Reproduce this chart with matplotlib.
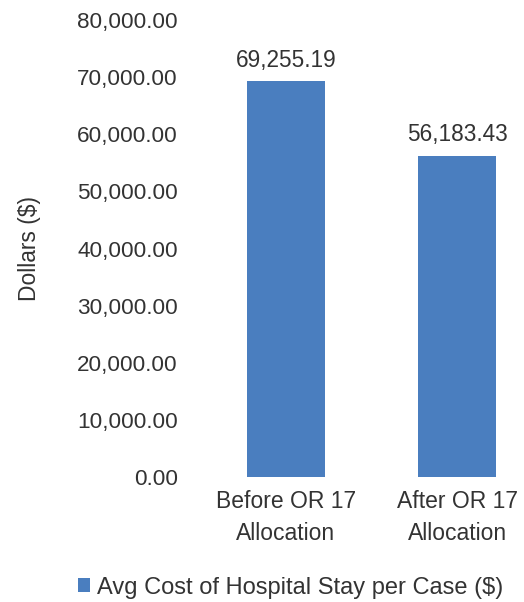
import matplotlib
matplotlib.use('Agg')
import matplotlib.pyplot as plt
from matplotlib.ticker import FuncFormatter

plt.rcParams['font.family'] = ['Liberation Sans', 'DejaVu Sans']

categories = ['Before OR 17\nAllocation', 'After OR 17\nAllocation']
values = [69255.19, 56183.43]
series_name = 'Avg Cost of Hospital Stay per Case ($)'
y_ticks = [0, 10000, 20000, 30000, 40000, 50000, 60000, 70000, 80000]

bar_color = '#4A7EBF'
text_color = '#333333'

fig = plt.figure(figsize=(5.24, 6.02), dpi=100)
ax = fig.add_axes([0.382, 0.2076, 0.618, 0.7592])

x = list(range(len(categories)))
bars = ax.bar(x, values, width=0.456, color=bar_color, label=series_name)

for b, v in zip(bars, values):
    ax.annotate(f'{v:,.2f}', (b.get_x() + b.get_width() / 2, v),
                xytext=(0, 7), textcoords='offset points',
                ha='center', va='bottom', fontsize=16.3, color=text_color)

ax.set_xlim(-0.5, 1.39)
ax.set_ylim(0, 80000)
ax.set_yticks(y_ticks)
ax.yaxis.set_major_formatter(FuncFormatter(lambda v, p: f'{v:,.2f}'))
ax.set_xticks(x)
ax.set_xticklabels(categories, fontsize=16.5, color=text_color, linespacing=1.5)
ax.tick_params(axis='y', labelsize=16.2, colors=text_color, length=0, pad=16)
ax.tick_params(axis='x', length=0, pad=9)
for s in ax.spines.values():
    s.set_visible(False)

ax.set_ylabel('Dollars ($)', fontsize=16.4, color=text_color, labelpad=26)

fig.legend(handles=[bars], labels=[series_name], loc='center',
           bbox_to_anchor=(0.554, 0.024), frameon=False, fontsize=17,
           handlelength=0.5, handleheight=0.5, handletextpad=0.3,
           labelcolor=text_color)

fig.savefig('out.png', dpi=100)
